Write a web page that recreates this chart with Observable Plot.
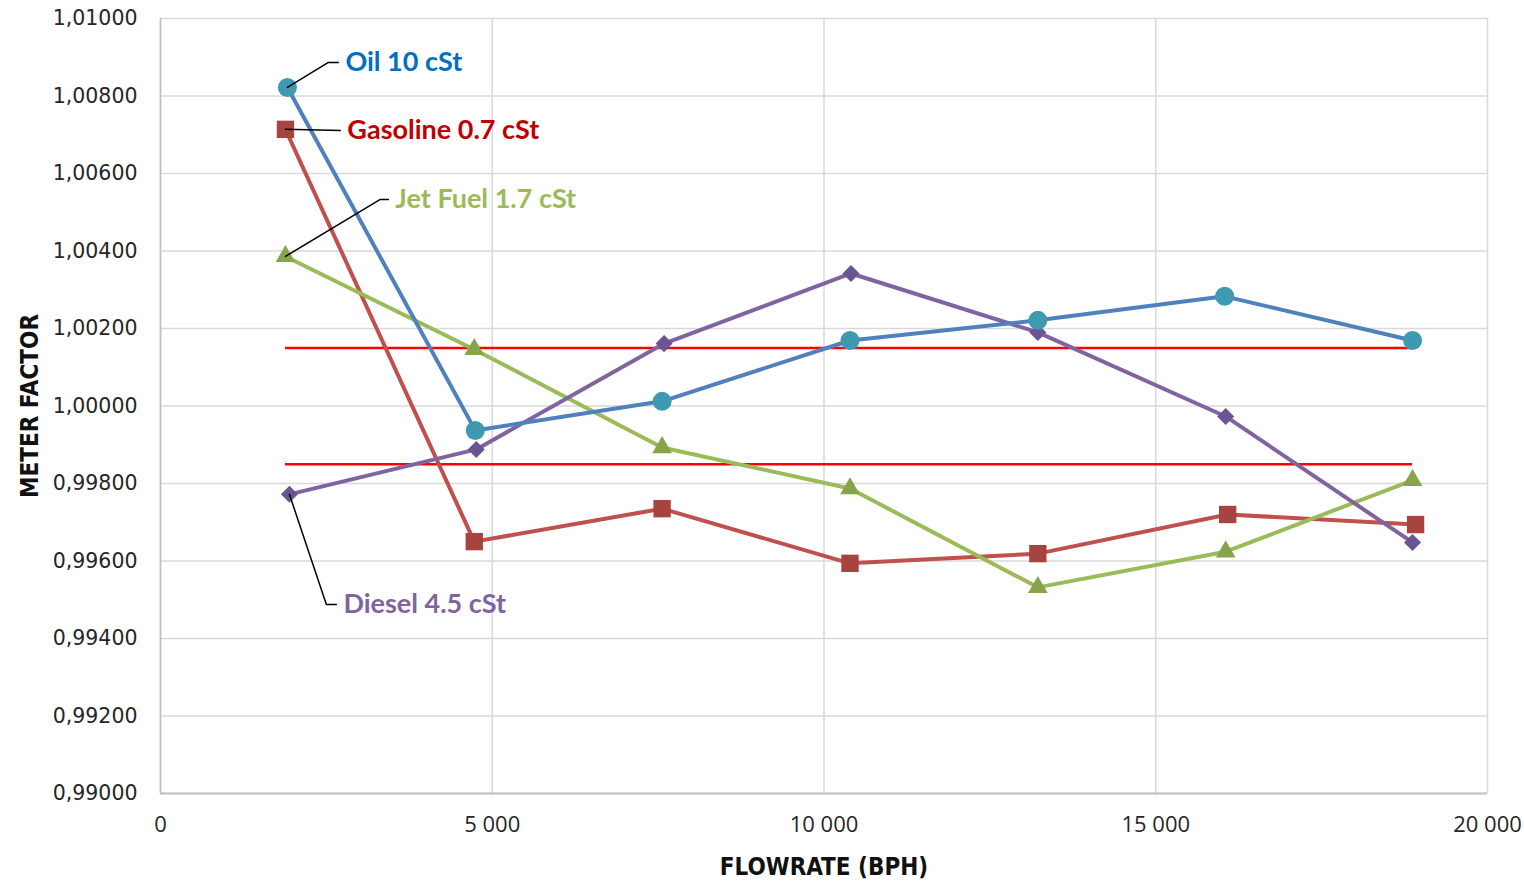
<!DOCTYPE html>
<html><head><meta charset="utf-8">
<script src="https://cdn.jsdelivr.net/npm/d3@7"></script>
<script src="https://cdn.jsdelivr.net/npm/@observablehq/plot@0.6"></script>
<style>body{margin:0;background:#fff}</style>
</head><body><div id="chart"></div>
<script>
// ---- data ----
const seriesNames = ["Gasoline 0.7 cSt", "Jet Fuel 1.7 cSt", "Diesel 4.5 cSt", "Oil 10 cSt"];
const gasolineFlow = [1883, 4729, 7560, 10392, 13223, 16084, 18916];
const gasolineMF   = [1.00714, 0.99650, 0.99735, 0.99594, 0.99619, 0.99720, 0.99694];
const jetFlow      = [1883, 4729, 7560, 10392, 13223, 16054, 18870];
const jetMF        = [1.00386, 1.00146, 0.99893, 0.99787, 0.99532, 0.99624, 0.99808];
const dieselFlow   = [1943, 4759, 7590, 10407, 13223, 16054, 18870];
const dieselMF     = [0.99772, 0.99888, 1.00161, 1.00342, 1.00190, 0.99973, 0.99648];
const oilFlow      = [1913, 4744, 7560, 10392, 13223, 16039, 18870];
const oilMF        = [1.00822, 0.99937, 1.00012, 1.00169, 1.00221, 1.00283, 1.00169];
const limitMF      = [1.0015, 0.9985];
const xTicks = [0, 5000, 10000, 15000, 20000];
const yTicks = [0.990, 0.992, 0.994, 0.996, 0.998, 1.000, 1.002, 1.004, 1.006, 1.008, 1.010];
// label annotations (data units): elbow and end of leader line
const labelElbowFlow = [2711, 3313, 2500, 2530];
const labelElbowMF   = [1.00711, 1.00533, 0.99488, 1.008865];
const labelEndFlow   = [2711, 3434, 2651, 2681];

// ---- styles ----
const lineColor   = {"Gasoline 0.7 cSt":"#C0504D","Jet Fuel 1.7 cSt":"#9BBB59","Diesel 4.5 cSt":"#8064A2","Oil 10 cSt":"#4F81BD"};
const markerColor = {"Gasoline 0.7 cSt":"#A8443F","Jet Fuel 1.7 cSt":"#86A44A","Diesel 4.5 cSt":"#6B5494","Oil 10 cSt":"#3E9AB0"};
const labelColor  = {"Gasoline 0.7 cSt":"#C00000","Jet Fuel 1.7 cSt":"#9BBB59","Diesel 4.5 cSt":"#8064A2","Oil 10 cSt":"#0070C0"};
const symbolOf    = {"Gasoline 0.7 cSt":"square","Jet Fuel 1.7 cSt":"triangle","Diesel 4.5 cSt":"square","Oil 10 cSt":"circle"};
const rOf         = {"Gasoline 0.7 cSt":9.8,"Jet Fuel 1.7 cSt":7.3,"Diesel 4.5 cSt":6.8,"Oil 10 cSt":9.5};
const rotOf       = {"Gasoline 0.7 cSt":0,"Jet Fuel 1.7 cSt":0,"Diesel 4.5 cSt":45,"Oil 10 cSt":0};

const flows = [gasolineFlow, jetFlow, dieselFlow, oilFlow];
const mfs = [gasolineMF, jetMF, dieselMF, oilMF];
const tableOf = i => flows[i].map((f, j) => ({series: seriesNames[i], flow: f, mf: mfs[i][j]}));

const leaders = [];
const labels = [];
seriesNames.forEach((s, i) => {
  leaders.push({s, flow: flows[i][0], mf: mfs[i][0]});
  leaders.push({s, flow: labelElbowFlow[i], mf: labelElbowMF[i]});
  leaders.push({s, flow: labelEndFlow[i], mf: labelElbowMF[i]});
  labels.push({s, flow: labelEndFlow[i], mf: labelElbowMF[i]});
});

const limits = limitMF.map(m => ({mf: m, x1: oilFlow[0] - 30, x2: oilFlow[oilFlow.length - 1]}));

const locale = d3.formatLocale({decimal: ",", thousands: "\u00a0", grouping: [3], currency: ["", ""]});
const fmtX = locale.format(",");
const fmtY = d => d.toFixed(5).replace(".", ",");

const seriesMarks = [];
seriesNames.forEach((s, i) => {
  const t = tableOf(i);
  seriesMarks.push(Plot.line(t, {x: "flow", y: "mf", stroke: lineColor[s], strokeWidth: 4, strokeLinejoin: "round"}));
  seriesMarks.push(Plot.dot(t, {x: "flow", y: "mf", symbol: symbolOf[s], r: rOf[s], rotate: rotOf[s], fill: markerColor[s], stroke: "none"}));
});

const narrow = "'Liberation Sans Narrow', 'DejaVu Sans Condensed', 'Roboto', sans-serif";

const chart = Plot.plot({
  width: 1524, height: 884,
  marginLeft: 160, marginRight: 37, marginTop: 18, marginBottom: 91,
  x: {domain: [0, 20000]},
  y: {domain: [0.99, 1.01]},
  style: {background: "white", fontFamily: "'DejaVu Sans', sans-serif"},
  marks: [
    Plot.gridX({ticks: xTicks, stroke: "#D9D9D9", strokeOpacity: 1, strokeWidth: 1.5}),
    Plot.gridY({ticks: yTicks, stroke: "#D9D9D9", strokeOpacity: 1, strokeWidth: 1.5}),
    Plot.ruleX([0], {stroke: "#BFBFBF", strokeWidth: 1.5}),
    Plot.ruleY([0.99], {stroke: "#BFBFBF", strokeWidth: 2}),
    Plot.axisY({ticks: yTicks, tickSize: 0, tickPadding: 23, tickFormat: fmtY, fontSize: 20.5, fill: "#262626", label: null}),
    Plot.axisX({ticks: xTicks, tickSize: 0, tickPadding: 23, tickFormat: fmtX, fontSize: 22, fontFamily: "'Open Sans', sans-serif", fill: "#262626", label: null}),
    Plot.text(["METER FACTOR"], {frameAnchor: "left", dx: -130, rotate: -90, textAnchor: "middle", fontSize: 24, fontWeight: "bold", fontFamily: narrow, fill: "#111"}),
    Plot.text(["FLOWRATE (BPH)"], {frameAnchor: "bottom", dy: 81, fontSize: 24, fontWeight: "bold", fontFamily: narrow, fill: "#111"}),
    Plot.ruleY(limits, {y: "mf", x1: "x1", x2: "x2", stroke: "#FF0000", strokeWidth: 2.5}),
    ...seriesMarks,
    Plot.line(leaders, {x: "flow", y: "mf", z: "s", stroke: "#000", strokeWidth: 1.5}),
    Plot.text(labels, {x: "flow", y: "mf", text: "s", dx: 7, textAnchor: "start", fill: d => labelColor[d.s], fontSize: 27, fontWeight: "bold", fontFamily: "Lato, 'Open Sans', sans-serif"})
  ]
});
document.getElementById("chart").append(chart);
</script>
</body></html>
